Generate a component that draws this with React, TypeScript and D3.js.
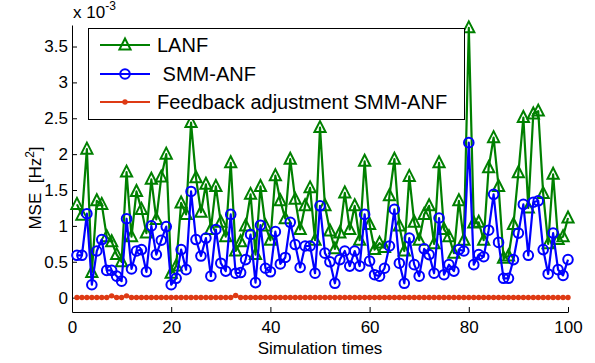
import React, { useEffect, useRef } from 'react';
import * as d3 from 'd3';

// MSE values (x 10^-3) for simulation runs 1..100
const lanf = [
  1.30, 1.15, 2.07, 0.35, 1.35, 1.30, 0.85, 0.78, 0.60, 0.50,
  1.75, 0.85, 1.48, 1.23, 0.90, 1.65, 1.09, 1.68, 2.00, 0.34,
  0.44, 1.32, 1.16, 2.44, 1.67, 1.19, 1.58, 0.95, 1.55, 1.05,
  0.85, 1.88, 0.65, 0.78, 1.00, 1.44, 0.60, 1.55, 1.00, 0.80,
  1.70, 1.35, 1.10, 1.93, 1.37, 0.95, 1.28, 1.53, 0.80, 2.37,
  1.28, 0.93, 0.68, 0.90, 1.46, 0.95, 1.28, 0.80, 1.90, 1.02,
  0.67, 0.76, 0.70, 1.42, 1.93, 1.00, 0.65, 1.69, 1.05, 0.80,
  1.16, 1.28, 0.75, 1.88, 0.95, 0.85, 0.62, 1.35, 0.80, 3.76,
  1.04, 1.05, 0.80, 1.81, 2.23, 1.55, 0.55, 0.58, 1.02, 1.74,
  2.51, 1.25, 2.56, 2.60, 1.45, 0.75, 1.72, 0.81, 0.85, 1.11,
];

const smmAnf = [
  0.59, 0.59, 1.17, 0.18, 0.65, 0.81, 0.38, 0.38, 0.30, 0.23,
  1.10, 0.40, 0.65, 0.67, 0.36, 1.00, 0.60, 0.80, 0.99, 0.18,
  0.27, 0.67, 0.39, 1.48, 0.81, 0.58, 0.83, 0.30, 0.95, 0.48,
  0.37, 1.16, 0.34, 0.35, 0.53, 0.88, 0.21, 1.01, 0.41, 0.36,
  0.92, 0.47, 0.56, 1.05, 0.74, 0.42, 0.72, 0.72, 0.34, 1.28,
  0.62, 0.50, 0.20, 0.53, 0.65, 0.44, 0.65, 0.44, 1.16, 0.51,
  0.32, 0.30, 0.41, 0.72, 1.23, 0.48, 0.20, 0.83, 0.46, 0.30,
  0.68, 0.60, 0.34, 1.11, 0.32, 0.46, 0.37, 0.67, 0.65, 2.16,
  0.46, 0.60, 0.57, 0.94, 1.44, 0.77, 0.27, 0.27, 0.53, 0.90,
  1.30, 0.59, 1.33, 1.35, 0.67, 0.33, 0.90, 0.39, 0.31, 0.53,
];

const feedback = [
  0.002, 0.002, 0.002, 0.002, 0.002, 0.002, 0.002, 0.025, 0.002, 0.002,
  0.025, 0.002, 0.002, 0.002, 0.002, 0.002, 0.002, 0.002, 0.002, 0.002,
  0.002, 0.002, 0.002, 0.002, 0.002, 0.002, 0.002, 0.002, 0.002, 0.002,
  0.002, 0.002, 0.030, 0.002, 0.002, 0.002, 0.002, 0.002, 0.002, 0.002,
  0.002, 0.002, 0.002, 0.002, 0.002, 0.002, 0.002, 0.002, 0.002, 0.002,
  0.002, 0.002, 0.002, 0.002, 0.002, 0.002, 0.002, 0.002, 0.002, 0.002,
  0.002, 0.002, 0.002, 0.002, 0.002, 0.002, 0.002, 0.002, 0.002, 0.002,
  0.002, 0.002, 0.002, 0.002, 0.002, 0.002, 0.002, 0.002, 0.002, 0.002,
  0.002, 0.002, 0.002, 0.002, 0.002, 0.002, 0.002, 0.002, 0.002, 0.002,
  0.002, 0.002, 0.002, 0.002, 0.002, 0.002, 0.002, 0.002, 0.002, 0.002,
];

const xTicks = [0, 20, 40, 60, 80, 100];
const yTicks = [0, 0.5, 1, 1.5, 2, 2.5, 3, 3.5];
const legendLabels = ['LANF', 'SMM-ANF', 'Feedback adjustment SMM-ANF'];

const GREEN = '#008000';
const BLUE = '#0000ff';
const RED = '#de3a14';
const FONT = "'Liberation Sans', Arial, sans-serif";

// open triangle marker centred on (cx, cy)
const triPath = (cx: number, cy: number) =>
  `M${cx},${cy - 6.5}L${cx + 5.6},${cy + 4.5}L${cx - 5.6},${cy + 4.5}Z`;

export default function App() {
  const svgRef = useRef<SVGSVGElement>(null);

  useEffect(() => {
    if (!svgRef.current) return;
    const svg = d3.select(svgRef.current);
    svg.selectAll('*').remove();

    const x = d3.scaleLinear().domain([0, 100]).range([72, 568]);
    const y = d3.scaleLinear().domain([-0.2, 3.8]).range([312, 25]);

    const idx = (i: number) => i + 1;

    // --- axes ---
    const yAxis = svg.append('g')
      .attr('transform', 'translate(72,0)')
      .call(d3.axisLeft(y).tickValues(yTicks).tickFormat(d => String(d))
        .tickSizeInner(-5).tickSizeOuter(0).tickPadding(4));
    const xAxis = svg.append('g')
      .attr('transform', 'translate(0,312)')
      .call(d3.axisBottom(x).tickValues(xTicks).tickFormat(d => String(d))
        .tickSizeInner(-5).tickSizeOuter(0).tickPadding(9));
    [xAxis, yAxis].forEach(g => {
      g.attr('font-family', FONT).attr('font-size', 17);
      g.selectAll('text').attr('fill', '#000');
      g.selectAll('line').attr('stroke', '#000');
      g.select('.domain').attr('stroke', '#000');
    });

    // exponent label
    const exp = svg.append('text')
      .attr('x', 73).attr('y', 18)
      .attr('font-family', FONT).attr('font-size', 17).attr('fill', '#000');
    exp.append('tspan').text('x 10');
    exp.append('tspan').attr('font-size', 12).attr('dy', -8).text('-3');

    // axis labels
    svg.append('text')
      .attr('x', 320).attr('y', 354)
      .attr('text-anchor', 'middle')
      .attr('font-family', FONT).attr('font-size', 17)
      .text('Simulation times');

    const yl = svg.append('text')
      .attr('transform', 'translate(41,188) rotate(-90)')
      .attr('text-anchor', 'middle')
      .attr('font-family', FONT).attr('font-size', 17)
      .attr('style', 'white-space: pre');
    yl.append('tspan').text('MSE  [Hz');
    yl.append('tspan').attr('font-size', 12).attr('dy', -7).text('2');
    yl.append('tspan').attr('dy', 7).text(']');

    // --- series ---
    const line = d3.line<number>().x((_, i) => x(idx(i))).y(d => y(d));

    svg.append('path').datum(lanf)
      .attr('d', line).attr('fill', 'none')
      .attr('stroke', GREEN).attr('stroke-width', 2.2).attr('stroke-linejoin', 'round');
    svg.append('g').selectAll('path').data(lanf).join('path')
      .attr('d', (d, i) => triPath(x(idx(i)), y(d)))
      .attr('fill', 'none').attr('stroke', GREEN).attr('stroke-width', 2);

    svg.append('path').datum(smmAnf)
      .attr('d', line).attr('fill', 'none')
      .attr('stroke', BLUE).attr('stroke-width', 2.2).attr('stroke-linejoin', 'round');
    svg.append('g').selectAll('circle').data(smmAnf).join('circle')
      .attr('cx', (_, i) => x(idx(i))).attr('cy', d => y(d)).attr('r', 4.8)
      .attr('fill', 'none').attr('stroke', BLUE).attr('stroke-width', 2);

    svg.append('path').datum(feedback)
      .attr('d', line).attr('fill', 'none')
      .attr('stroke', RED).attr('stroke-width', 2);
    svg.append('g').selectAll('circle').data(feedback).join('circle')
      .attr('cx', (_, i) => x(idx(i))).attr('cy', d => y(d)).attr('r', 2.7)
      .attr('fill', RED);

    // --- legend ---
    const lg = svg.append('g');
    lg.append('rect')
      .attr('x', 88.5).attr('y', 28.5).attr('width', 376).attr('height', 91)
      .attr('fill', '#fff').attr('stroke', '#000').attr('stroke-width', 1);
    const rows = [45, 74, 102];
    const colors = [GREEN, BLUE, RED];
    rows.forEach((ry, k) => {
      lg.append('line')
        .attr('x1', 100).attr('x2', 150).attr('y1', ry).attr('y2', ry)
        .attr('stroke', colors[k]).attr('stroke-width', 2.2);
      if (k === 0) {
        lg.append('path').attr('d', triPath(125, ry))
          .attr('fill', 'none').attr('stroke', GREEN).attr('stroke-width', 2);
      } else if (k === 1) {
        lg.append('circle').attr('cx', 125).attr('cy', ry).attr('r', 4.8)
          .attr('fill', 'none').attr('stroke', BLUE).attr('stroke-width', 2);
      } else {
        lg.append('circle').attr('cx', 125).attr('cy', ry).attr('r', 2.7).attr('fill', RED);
      }
      lg.append('text')
        .attr('x', k === 1 ? 162.6 : 157).attr('y', ry + 7.2)
        .attr('font-family', FONT).attr('font-size', 20).attr('fill', '#000')
        .text(legendLabels[k]);
    });
  }, []);

  return (
    <svg
      ref={svgRef}
      width={595}
      height={363}
      style={{ position: 'absolute', left: 0, top: 0, background: '#fff' }}
    />
  );
}
